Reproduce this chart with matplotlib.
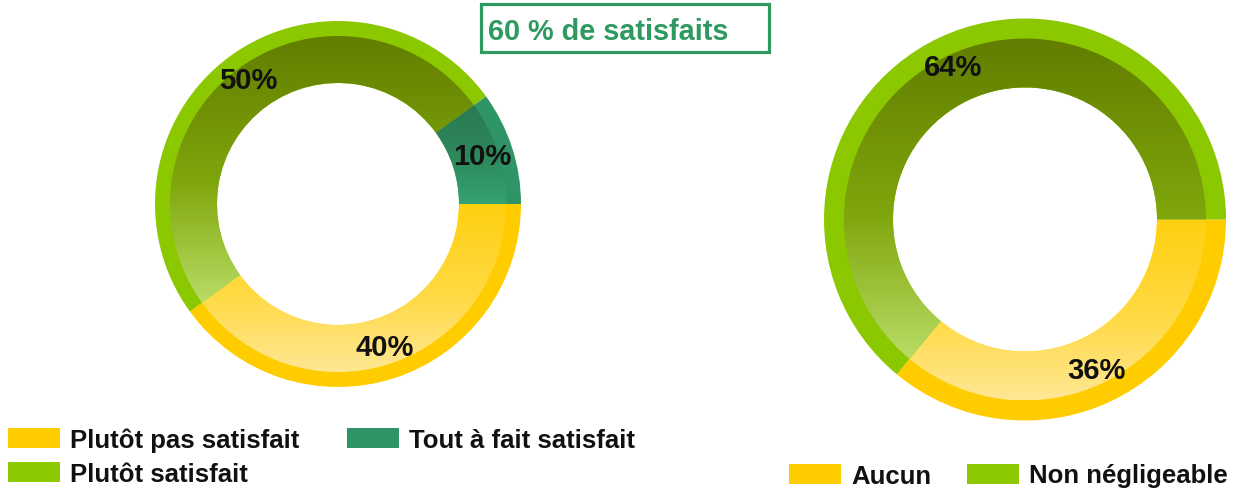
import numpy as np
import matplotlib
matplotlib.use("Agg")
import matplotlib.pyplot as plt
from matplotlib.colors import LinearSegmentedColormap
from matplotlib.patches import Rectangle

plt.rcParams['font.family'] = ['Liberation Sans', 'DejaVu Sans']

W, H = 1238, 488

# ---- data ----
left_labels = ["Plutôt pas satisfait", "Plutôt satisfait", "Tout à fait satisfait"]
left_values = [40, 50, 10]
right_labels = ["Aucun", "Non négligeable"]
right_values = [36, 64]
title_text = "60 % de satisfaits"

# colours: (rim / legend, gradient top, gradient middle, gradient bottom)
YELLOW = ("#FFCC00", "#FFD00F", "#FFDA45", "#FFE794")
GREEN = ("#8CC800", "#627D00", "#7FA60C", "#B9DD66")
TEAL = ("#2F9466", "#2A7A50", "#2E8A5C", "#36A272")
left_colors = [YELLOW, GREEN, TEAL]
right_colors = [YELLOW, GREEN]
TITLE_COLOR = "#2E9A5F"
TEXT_COLOR = "#111111"

fig = plt.figure(figsize=(W / 100, H / 100), dpi=100)
ax = fig.add_axes([0, 0, 1, 1])


def py(y):
    """convert pixel-from-top to data y"""
    return H - y


def donut(values, colors, center, r_out, r_in, rim, pctdist):
    cx, cy = center
    base, _, autotexts = ax.pie(
        values, colors=[c[0] for c in colors], radius=r_out, center=(cx, cy),
        startangle=0, counterclock=False,
        wedgeprops=dict(width=r_out - r_in, edgecolor="none"),
        autopct=lambda p: f"{p:.0f}%", pctdistance=pctdist,
        textprops=dict(fontsize=21, fontweight="bold", color=TEXT_COLOR),
    )
    for t in autotexts:
        t.set_zorder(5)
    r_band = r_out - rim
    inner, _ = ax.pie(
        values, colors=["none"] * len(values), radius=r_band, center=(cx, cy),
        startangle=0, counterclock=False,
        wedgeprops=dict(width=r_band - r_in, edgecolor="none"),
    )
    for w, c in zip(inner, colors):
        th = np.radians(np.linspace(w.theta1, w.theta2, 400))
        ys = np.concatenate([cy + r_band * np.sin(th), cy + r_in * np.sin(th)])
        xs = np.concatenate([cx + r_band * np.cos(th), cx + r_in * np.cos(th)])
        cmap = LinearSegmentedColormap.from_list(
            "g", [(0.0, c[3]), (0.45, c[2]), (1.0, c[1])])
        grad = np.linspace(1, 0, 256).reshape(-1, 1)
        im = ax.imshow(grad, cmap=cmap, extent=[xs.min(), xs.max(), ys.min(), ys.max()],
                       origin="upper", aspect="auto", zorder=2, interpolation="bilinear")
        im.set_clip_path(w)


donut(left_values, left_colors, (338, py(204)), 183, 121, 15, 0.83)
donut(right_values, right_colors, (1025, py(219.5)), 201, 132, 20, 0.835)


# ---- legends ----
def legend(labels, colors, ys, col_x, rows_per_col):
    i = 0
    for col, x in enumerate(col_x):
        for row in range(rows_per_col[col]):
            y = ys[row]
            ax.add_patch(Rectangle((x, py(y + 10)), 52, 20, facecolor=colors[i][0],
                                   edgecolor="none", zorder=3))
            ax.text(x + 62, py(y), labels[i], fontsize=18.5, fontweight="bold",
                    color=TEXT_COLOR, va="center_baseline", ha="left")
            i += 1


legend(left_labels, left_colors, [438, 472], [8, 347], [2, 1])
legend(right_labels, right_colors, [474], [789, 967], [1, 1])

# ---- title box ----
ax.add_patch(Rectangle((481, py(52)), 288, 48, facecolor="white",
                       edgecolor=TITLE_COLOR, linewidth=2.3, zorder=4))
ax.text(488, py(29), title_text, fontsize=20.8, fontweight="bold",
        color=TITLE_COLOR, va="center_baseline", ha="left", zorder=5)

ax.set_xlim(0, W)
ax.set_ylim(0, H)
ax.set_aspect("auto")
ax.axis("off")

fig.savefig("out.png", dpi=100)
